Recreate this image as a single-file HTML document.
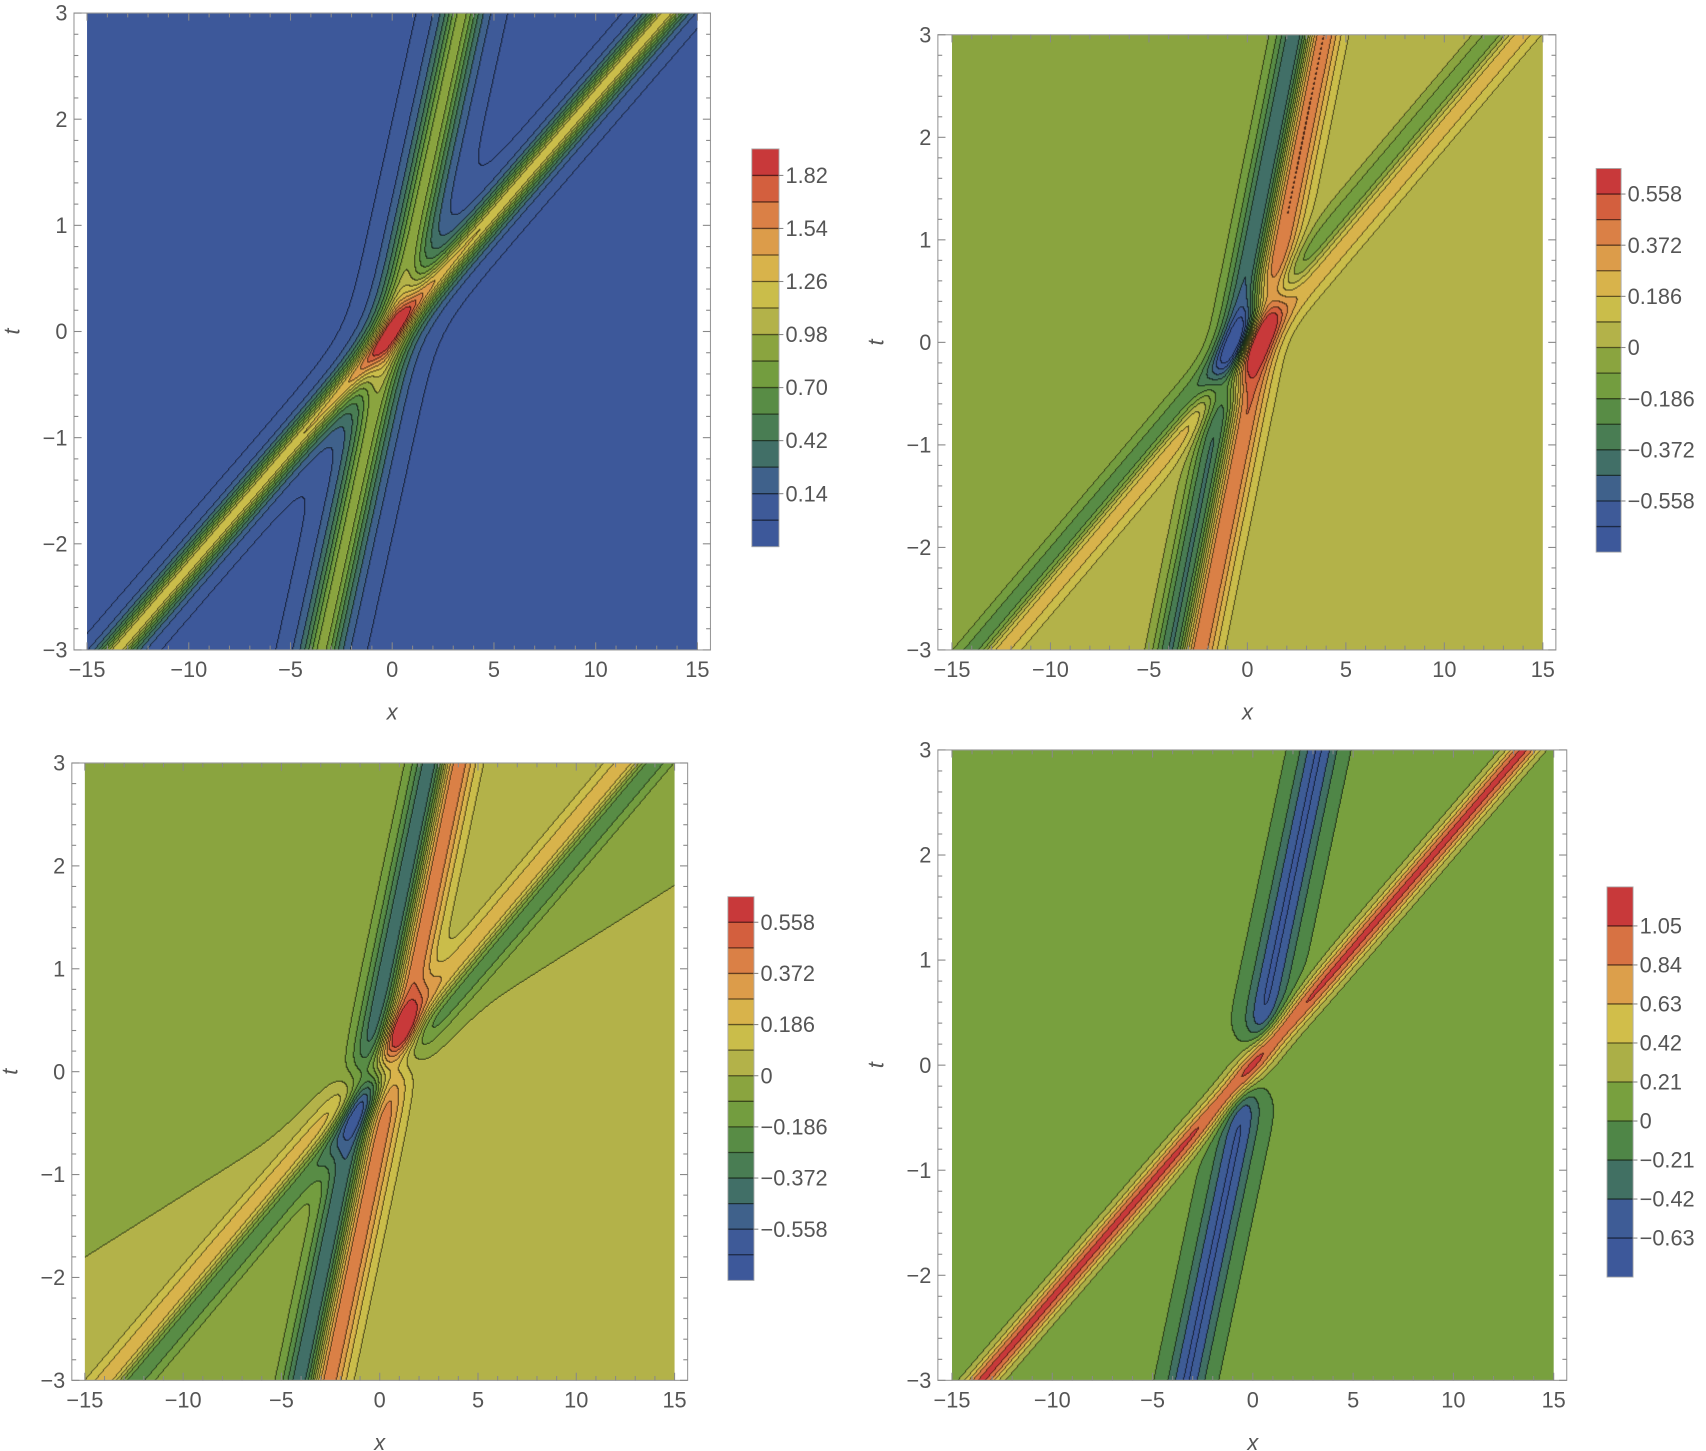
<!DOCTYPE html>
<html><head><meta charset="utf-8">
<style>
html,body{margin:0;padding:0;background:#fff;}
body{width:1706px;height:1451px;overflow:hidden;position:relative;}
#w{position:absolute;left:0;top:0;width:1568px;height:1335px;transform-origin:0 0;transform:scale(1.08801,1.08689);}
canvas{position:absolute;}
svg{position:absolute;left:0;top:0;}
text{font-family:"Liberation Sans",sans-serif;fill:#555;}
</style></head><body>
<div id="w"></div>
<script>
const S=1.088;
const W=document.getElementById('w');
const stops=[[0,[61,88,154]],[0.12,[62,92,150]],[0.22,[65,112,100]],[0.33,[78,133,71]],[0.44,[119,160,62]],[0.5,[138,164,63]],[0.57,[179,178,73]],[0.66,[208,192,74]],[0.75,[221,170,76]],[0.84,[219,135,72]],[0.92,[212,100,63]],[1,[200,57,58]]];
function pal(t){for(let i=1;i<stops.length;i++){if(t<=stops[i][0]){const a=stops[i-1],b=stops[i];const u=(t-a[0])/(b[0]-a[0]);return a[1].map((c,k)=>Math.round(c+(b[1][k]-c)*u));}}return stops[stops.length-1][1];}
const sech=z=>1/Math.cosh(z);
const g=z=>1.65*z*Math.exp(-z*z/2);
function f1(x,t){const a=x-4.5*t,b=x-1.15*t;return 1.3*sech(a/0.55)+0.95*sech(b/0.62)-0.05;}
function f2(x,t){const a=x-4.4*t,b=x-1.05*t;const w=(1-Math.tanh(2*a)*Math.tanh(2*b))/2;
 const bg=w*0.045+(1-w)*0.045*Math.tanh(2*b);
 return bg+0.19*g(a/0.75)+0.42*g(b/0.75)+0.18*g((x-2*t)/0.6)*Math.exp(-t*t/0.2);}
function f3(x,t){const a=x-4.4*t,b=x-1.1*t;const w=(1-Math.tanh(2*a)*Math.tanh(2*b))/2;
 const bg=w*0.045*Math.tanh(3*t)+(1-w)*(-0.045*Math.tanh(2*(t-x/8.3)));
 return bg-0.21*g(a/0.75)+0.4*g(b/0.75)+0.15*Math.exp(-((x-1.2)*(x-1.2)/0.8+(t-0.4)*(t-0.4)/0.05));}
function f4(x,t){const a=x-4.5*t,b=x-1.1*t;const gate=Math.tanh(t*t/0.15);
 return 0.1+1.0*Math.exp(-(a/0.8)*(a/0.8))-0.75*sech(b/0.6)*gate;}
const P=[
{fx0:80,fx1:641,fy0:12,fy1:598,fl:68,fr:653,cb:[691,137,716,503],vmin:-0.14,step:0.14,n:15,labels:['1.82','1.54','1.26','0.98','0.70','0.42','0.14'],lv:[1.82,1.54,1.26,0.98,0.70,0.42,0.14],f:f1},
{fx0:875,fx1:1418,fy0:32,fy1:598,fl:862,fr:1430,cb:[1467,155,1490,508],vmin:-0.744,step:0.093,n:15,labels:['0.558','0.372','0.186','0','\u22120.186','\u22120.372','\u22120.558'],lv:[0.558,0.372,0.186,0,-0.186,-0.372,-0.558],f:f2},
{fx0:78,fx1:620,fy0:702,fy1:1270,fl:66,fr:632,cb:[669,825,693,1178],vmin:-0.744,step:0.093,n:15,labels:['0.558','0.372','0.186','0','\u22120.186','\u22120.372','\u22120.558'],lv:[0.558,0.372,0.186,0,-0.186,-0.372,-0.558],f:f3},
{fx0:875,fx1:1428,fy0:690,fy1:1270,fl:862,fr:1440,cb:[1477,816,1501,1175],vmin:-0.84,step:0.21,n:10,labels:['1.05','0.84','0.63','0.42','0.21','0','\u22120.21','\u22120.42','\u22120.63'],lv:[1.05,0.84,0.63,0.42,0.21,0,-0.21,-0.42,-0.63],f:f4}];
let svg='';
for(const p of P){
 const cw=Math.round((p.fx1-p.fx0)*S),ch=Math.round((p.fy1-p.fy0)*S);
 const c=document.createElement('canvas');c.width=cw;c.height=ch;
 c.style.left=p.fx0+'px';c.style.top=p.fy0+'px';c.style.width=(p.fx1-p.fx0)+'px';c.style.height=(p.fy1-p.fy0)+'px';
 W.appendChild(c);const ctx=c.getContext('2d');const im=ctx.createImageData(cw,ch);
 const band=new Int16Array(cw*ch);
 for(let j=0;j<ch;j++){const t=3-6*(j+0.5)/ch;for(let i=0;i<cw;i++){const x=-15+30*(i+0.5)/cw;
  let b=Math.floor((p.f(x,t)-p.vmin)/p.step);if(b<0)b=0;if(b>p.n-1)b=p.n-1;band[j*cw+i]=b;}}
 const cols=[];for(let k=0;k<p.n;k++)cols.push(pal(k/(p.n-1)));
 for(let j=0;j<ch;j++)for(let i=0;i<cw;i++){const idx=j*cw+i,b=band[idx];let col=cols[b];
  const edge=(i<cw-1&&band[idx+1]!=b)||(j<ch-1&&band[idx+cw]!=b);
  const o=idx*4;if(edge){im.data[o]=col[0]*0.35;im.data[o+1]=col[1]*0.35;im.data[o+2]=col[2]*0.35;}
  else{im.data[o]=col[0];im.data[o+1]=col[1];im.data[o+2]=col[2];}im.data[o+3]=255;}
 ctx.putImageData(im,0,0);
 const [bx0,by0,bx1,by1]=p.cb;const bh=(by1-by0)/p.n;
 for(let k=0;k<p.n;k++){const col=cols[k];const y=by1-(k+1)*bh;
  svg+=`<rect x="${bx0}" y="${y}" width="${bx1-bx0}" height="${bh+0.3}" fill="rgb(${col})"/>`;
  if(k>0)svg+=`<line x1="${bx0}" x2="${bx1}" y1="${by1-k*bh}" y2="${by1-k*bh}" stroke="rgba(0,0,0,0.55)" stroke-width="1.2"/>`;}
 svg+=`<rect x="${bx0}" y="${by0}" width="${bx1-bx0}" height="${by1-by0}" fill="none" stroke="#aaa" stroke-width="0.8"/>`;
 const vmax=p.vmin+p.n*p.step;
 p.lv.forEach((v,i)=>{const y=by1-(v-p.vmin)/(vmax-p.vmin)*(by1-by0);
  svg+=`<line x1="${bx1}" x2="${bx1+4}" y1="${y}" y2="${y}" stroke="#888"/>`;
  svg+=`<text x="${bx1+6}" y="${y+7}" font-size="20">${p.labels[i]}</text>`;});
 svg+=`<rect x="${p.fl}" y="${p.fy0}" width="${p.fr-p.fl}" height="${p.fy1-p.fy0}" fill="none" stroke="#999" stroke-width="1"/>`;
 const X=x=>p.fx0+(x+15)/30*(p.fx1-p.fx0),Y=t=>p.fy0+(3-t)/6*(p.fy1-p.fy0);
 for(let x=-15;x<=15;x++){const L=x%5==0?7:4,px=X(x);
  svg+=`<line x1="${px}" x2="${px}" y1="${p.fy1}" y2="${p.fy1-L}" stroke="#888"/><line x1="${px}" x2="${px}" y1="${p.fy0}" y2="${p.fy0+L}" stroke="#888"/>`;
  if(x%5==0)svg+=`<text x="${px}" y="${p.fy1+25}" font-size="20" text-anchor="middle">${x<0?'\u2212'+(-x):x}</text>`;}
 for(let k=-15;k<=15;k++){const t=k/5,L=k%5==0?7:4,py=Y(t);
  svg+=`<line x1="${p.fl}" x2="${p.fl+L}" y1="${py}" y2="${py}" stroke="#888"/><line x1="${p.fr}" x2="${p.fr-L}" y1="${py}" y2="${py}" stroke="#888"/>`;
  if(k%5==0)svg+=`<text x="${p.fl-6}" y="${py+7}" font-size="20" text-anchor="end">${t<0?'\u2212'+(-t):t}</text>`;}
 svg+=`<text x="${(p.fx0+p.fx1)/2}" y="${p.fy1+64}" font-size="20" font-style="italic" text-anchor="middle">x</text>`;
 const ty=(p.fy0+p.fy1)/2;
 svg+=`<text x="${p.fl-50}" y="${ty}" font-size="20" font-style="italic" text-anchor="middle" transform="rotate(-90 ${p.fl-50} ${ty})">t</text>`;
}
W.insertAdjacentHTML('beforeend',`<svg width="1568" height="1335" viewBox="0 0 1568 1335">${svg}</svg>`);
</script>
</body></html>
